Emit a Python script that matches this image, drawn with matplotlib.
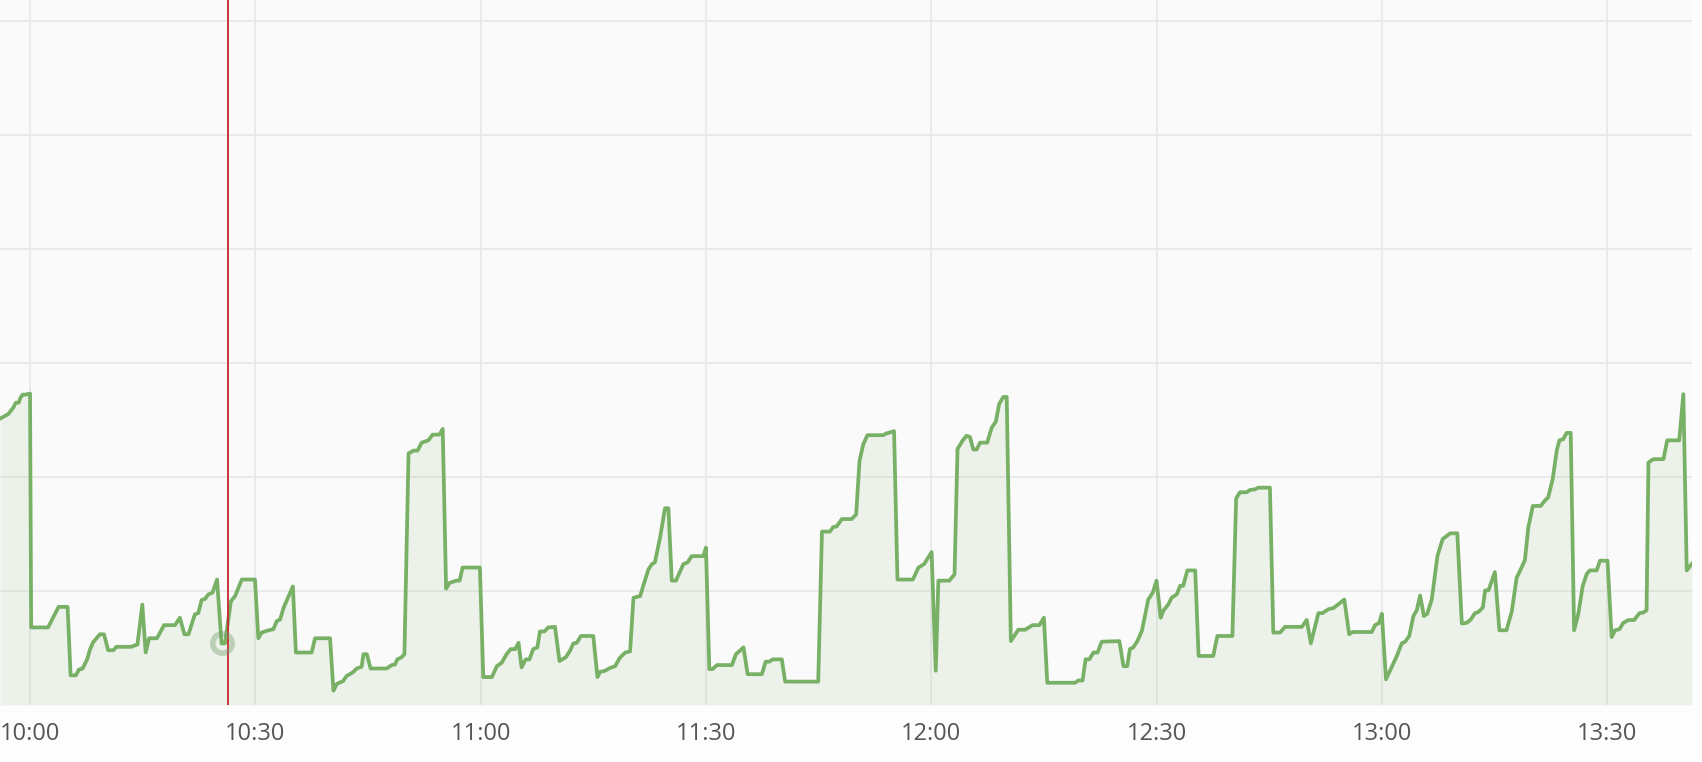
import matplotlib
matplotlib.use("Agg")
import matplotlib.pyplot as plt
import numpy as np

# minutes after 10:00 and series value
minutes = [-4.0, -2.9, -2.2, -1.9, -1.5, -1.3, -1.0, -0.7, 0.0, 0.15, 2.4, 3.8, 5.0, 5.4, 6.1, 6.5, 7.0, 7.6, 8.0, 8.4,
           9.3, 9.85, 10.4, 11.1, 11.5, 13.5, 13.85, 14.3, 14.95, 15.4, 15.85, 16.9, 17.85, 19.3, 19.95, 20.55, 21.1,
           21.95, 22.4, 22.85, 23.3, 23.75, 24.3, 24.9, 25.5, 25.95, 26.75, 27.3, 28.2, 29.95, 30.4, 30.85, 31.5,
           32.4, 32.85, 33.3, 33.75, 35.0, 35.4, 37.5, 37.95, 39.95, 40.4, 40.85, 41.7, 42.15, 42.6, 43.05, 43.5,
           44.15, 44.4, 44.85, 45.35, 47.5, 48.15, 48.6, 48.9, 49.4, 49.85, 50.4, 51.05, 51.6, 52.15, 52.6, 53.05,
           53.6, 54.5, 54.95, 55.4, 55.85, 56.75, 57.2, 57.6, 59.9, 60.35, 61.5, 62.15, 62.8, 63.45, 64.0, 64.6,
           65.05, 65.45, 66.0, 66.5, 67.0, 67.55, 67.9, 68.5, 69.0, 69.9, 70.5, 71.35, 71.9, 72.35, 72.8, 73.35,
           75.0, 75.55, 75.9, 76.55, 77.25, 77.9, 78.55, 79.25, 79.9, 80.35, 81.25, 81.65, 82.35, 82.8, 83.2, 83.9,
           84.55, 85.0, 85.45, 86.0, 87.0, 87.55, 88.1, 89.65, 90.0, 90.45, 90.9, 91.45, 93.45, 94.0, 95.0, 95.55,
           97.45, 97.95, 98.45, 98.9, 100.1, 100.55, 104.95, 105.45, 106.5, 106.95, 107.4, 108.1, 109.4, 110.0,
           110.45, 110.95, 111.5, 113.6, 114.0, 114.5, 115.05, 115.5, 117.55, 118.3, 119.05, 120.05, 120.6, 120.95,
           122.4, 123.1, 123.5, 124.2, 124.7, 125.15, 125.6, 126.05, 126.5, 127.45, 128.05, 128.6, 129.05, 129.6,
           130.05, 130.6, 131.6, 132.5, 133.5, 134.4, 135.0, 135.45, 139.15, 139.6, 140.15, 140.55, 141.05, 141.6,
           142.15, 142.7, 145.05, 145.6, 146.1, 146.45, 146.9, 147.45, 148.05, 148.9, 149.5, 150.0, 150.55, 150.9,
           151.6, 152.0, 152.7, 153.15, 153.55, 154.1, 155.15, 155.6, 157.55, 158.1, 160.1, 160.6, 161.1, 162.0,
           162.45, 163.1, 163.55, 165.1, 165.55, 166.45, 167.1, 169.35, 170.0, 170.55, 171.55, 172.1, 172.9, 173.55,
           174.35, 175.0, 175.65, 176.1, 178.65, 179.1, 179.65, 180.0, 180.55, 182.0, 182.65, 183.1, 183.65, 184.2,
           184.65, 185.1, 185.6, 186.05, 186.65, 187.4, 188.1, 189.1, 190.05, 190.65, 191.3, 191.85, 192.4, 192.85,
           193.45, 193.75, 194.2, 195.05, 195.65, 196.6, 197.3, 197.95, 198.5, 199.05, 199.5, 200.1, 201.15, 201.75,
           202.15, 202.75, 203.3, 203.65, 204.15, 204.6, 205.15, 205.6, 206.15, 206.75, 207.3, 207.7, 208.6, 209.05,
           210.05, 210.6, 211.05, 211.65, 212.15, 212.85, 213.6, 214.3, 214.8, 215.25, 215.5, 216.15, 217.5, 218.0,
           219.6, 220.15, 220.6, 221.3]
values = [25.1, 25.5, 26.1, 26.5, 26.5, 26.9, 27.2, 27.2, 27.3, 6.8, 6.8, 8.6, 8.6, 2.6, 2.6, 3.1, 3.2, 4.0, 4.9, 5.5,
          6.2, 6.2, 4.8, 4.8, 5.1, 5.1, 5.2, 5.3, 8.8, 4.6, 5.85, 5.85, 7.0, 7.0, 7.65, 6.2, 6.2,
          7.95, 8.05, 9.2, 9.3, 9.7, 9.85, 11.0, 5.4, 5.4, 9.1, 9.55, 11.0, 11.0, 5.85, 6.35, 6.5,
          6.65, 7.35, 7.5, 8.5, 10.4, 4.6, 4.6, 5.85, 5.85, 1.25, 1.85, 2.1, 2.55, 2.7, 2.9, 3.2,
          3.35, 4.45, 4.45, 3.2, 3.2, 3.5, 3.55, 4.0, 4.15, 4.45, 22.05, 22.3, 22.3, 23.0, 23.1, 23.2,
          23.7, 23.7, 24.2, 10.2, 10.7, 10.9, 10.9, 12.05, 12.05, 2.45, 2.45, 3.4, 3.7, 4.45, 4.9, 4.9,
          5.45, 3.3, 4.0, 4.0, 4.9, 5.05, 6.45, 6.45, 6.8, 6.85, 3.85, 4.2, 4.75, 5.4, 5.45, 6.05,
          6.05, 2.45, 2.9, 3.0, 3.25, 3.4, 4.15, 4.6, 4.7, 9.4, 9.55, 10.45, 11.9, 12.35, 12.5, 14.7,
          17.25, 17.25, 10.9, 10.9, 12.35, 12.5, 13.05, 13.05, 13.8, 3.15, 3.15, 3.5, 3.5, 4.45, 5.05, 2.7,
          2.7, 3.8, 3.8, 4.0, 4.0, 2.05, 2.05, 15.2, 15.2, 15.6, 15.65, 16.3, 16.3, 16.7,
          21.4, 22.85, 23.65, 23.65, 23.8, 23.9, 24.0, 11.0, 11.0, 12.05, 12.35, 13.4, 3.0, 10.9,
          10.9, 11.45, 22.45, 23.2, 23.6, 23.5, 22.4, 22.4, 23.0, 23.0, 24.3, 24.85, 26.4, 27.0,
          27.0, 5.6, 6.6, 6.6, 7.0, 7.0, 7.65, 1.95, 1.95, 2.15, 2.15, 4.0, 4.0, 4.6,
          4.6, 5.55, 5.6, 3.4, 3.4, 4.9, 5.05, 5.6, 6.5, 9.25, 9.85, 10.9, 7.65, 8.25,
          8.85, 9.4, 9.7, 10.45, 10.45, 11.8, 11.8, 4.3, 4.3, 6.05, 6.05, 18.1, 18.65, 18.65,
          18.85, 18.9, 19.05, 19.05, 6.35, 6.35, 6.85, 6.85, 7.45, 5.4, 8.05, 8.05, 8.4, 8.5,
          8.9, 9.25, 6.2, 6.4, 6.4, 7.0, 7.2, 8.0, 2.25, 4.3, 5.4, 5.55, 6.05, 7.8,
          8.3, 9.6, 7.8, 8.0, 9.25, 13.05, 14.55, 15.05, 15.05, 7.15, 7.2, 7.5, 8.05, 8.15,
          8.55, 10.05, 10.05, 11.65, 6.55, 6.55, 8.2, 11.15, 11.9, 12.7, 15.55, 17.45, 17.45, 17.95,
          18.2, 19.8, 22.35, 23.2, 23.3, 23.85, 23.85, 6.55, 7.95, 10.45, 11.5, 11.8, 11.8, 12.65,
          12.65, 5.95, 6.55, 6.65, 7.2, 7.45, 7.45, 8.05, 8.1, 8.3, 21.25, 21.55, 21.55, 23.2,
          23.2, 27.25, 11.8, 12.4]

tick_minutes = [0, 30, 60, 90, 120, 150, 180, 210]
tick_labels = ["10:00", "10:30", "11:00", "11:30", "12:00", "12:30", "13:00", "13:30"]
y_grid = [10, 20, 30, 40, 50, 60]

annotation_minute = 26.33
hover_minute = 25.5
hover_value = 5.4

line_color = "#78b066"

fig = plt.figure(figsize=(17.02, 7.62), dpi=100, facecolor="#fdfdfd")
ax = fig.add_axes([0.0, 57 / 762, 1692 / 1702, 705 / 762])
ax.set_facecolor("#fafafa")

ax.plot(minutes, values, color=line_color, lw=2.7, solid_joinstyle="round", zorder=3)
ax.fill_between(minutes, values, 0, color=line_color, alpha=0.1, lw=0, zorder=2)

ax.axvline(annotation_minute, color="#c8252e", lw=1.3, zorder=4)
ax.plot([hover_minute], [hover_value], "o", ms=14, mfc="none",
        mec=(0.45, 0.62, 0.42, 0.4), mew=4.0, zorder=5)

ax.set_xlim(-4.0, 221.3)
ax.set_ylim(0, 61.8)
ax.set_xticks(tick_minutes)
ax.set_xticklabels(tick_labels, fontsize=17, color="#555555", family=["Open Sans", "DejaVu Sans"])
ax.set_yticks(y_grid)
ax.set_yticklabels([])
ax.tick_params(length=0, pad=12)
ax.grid(True, color="#e9e9e9", lw=1.3, zorder=1)
ax.set_axisbelow(True)
for s in ax.spines.values():
    s.set_visible(False)

fig.savefig("out.png", dpi=100, facecolor=fig.get_facecolor())
